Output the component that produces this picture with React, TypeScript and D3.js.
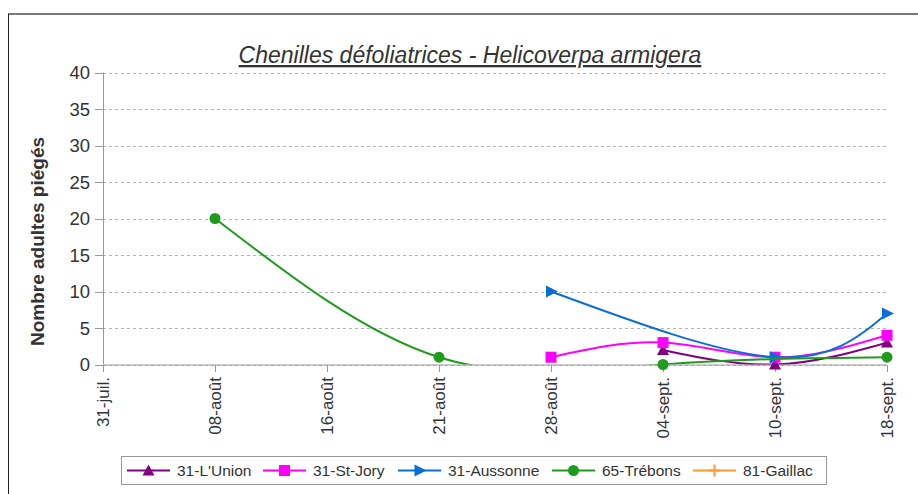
import React from "react";
import * as d3 from "d3";

// categories (x axis) and series values
const categories = ["31-juil.", "08-août", "16-août", "21-août", "28-août", "04-sept.", "10-sept.", "18-sept."];
const yTicks = [0, 5, 10, 15, 20, 25, 30, 35, 40];

const lUnion = [null, null, null, null, null, 2, 0, 3];
const stJory = [null, null, null, null, 1, 3, 1, 4];
const aussonne = [null, null, null, null, 10, null, 1, 7];
const trebons = [null, 20, null, 1, null, 0, null, 1];
const gaillac = [null, null, null, null, null, null, null, null];

const seriesNames = ["31-L'Union", "31-St-Jory", "31-Aussonne", "65-Trébons", "81-Gaillac"];
const seriesValues = [lUnion, stJory, aussonne, trebons, gaillac];
const seriesColors = ["#800080", "#ff00ff", "#0a6fd4", "#1e9c1e", "#ff9a2e"];
const seriesMarkers = ["triangle", "square", "arrow", "circle", "plus"];

const font = "'Liberation Sans', Arial, sans-serif";

const Marker = ({ kind, x, y, color }) => {
  if (kind === "triangle")
    return <path d={`M${x},${y - 6}L${x + 6},${y + 5}L${x - 6},${y + 5}Z`} fill={color} />;
  if (kind === "square")
    return <rect x={x - 5.5} y={y - 5.5} width={11} height={11} fill={color} />;
  if (kind === "arrow")
    return <path d={`M${x - 5},${y - 6}L${x + 7},${y}L${x - 5},${y + 6}Z`} fill={color} />;
  if (kind === "circle") return <circle cx={x} cy={y} r={5.5} fill={color} />;
  return (
    <path d={`M${x - 6},${y}H${x + 6}M${x},${y - 6}V${y + 6}`} stroke={color} strokeWidth={2} />
  );
};

const App = () => {
  const width = 918,
    height = 494;
  const x = d3.scalePoint().domain(categories).range([103, 887]);
  const y = d3.scaleLinear().domain([0, 40]).range([364.5, 72.5]);

  const line = d3
    .line()
    .x((d) => d[0])
    .y((d) => d[1])
    .curve(d3.curveNatural);

  const legendX = [127, 263, 398, 552, 693];

  return (
    <svg
      width={width}
      height={height}
      style={{ position: "absolute", left: 0, top: 0, background: "#fff" }}
      fontFamily={font}
    >
      <defs>
        <clipPath id="plot">
          <rect x={x(categories[0])} y={y(40)} width={887 - 103} height={y(0) - y(40)} />
        </clipPath>
      </defs>

      {/* frame */}
      <line x1={8} x2={width} y1={14} y2={14} stroke="#7a7a7a" strokeWidth={2} />
      <line x1={8.5} x2={8.5} y1={14} y2={height} stroke="#222" strokeWidth={1} />

      {/* title */}
      <text
        x={470}
        y={63}
        textAnchor="middle"
        fontSize={23}
        fontStyle="italic"
        textDecoration="underline"
        fill="#333"
      >
        Chenilles défoliatrices - Helicoverpa armigera
      </text>

      {/* grid */}
      {yTicks.map((t) => (
        <line
          key={"g" + t}
          x1={103}
          x2={887}
          y1={Math.round(y(t)) + 0.5}
          y2={Math.round(y(t)) + 0.5}
          stroke="#b3b3b3"
          strokeDasharray="3,3"
        />
      ))}

      {/* y axis */}
      <line x1={103.5} x2={103.5} y1={y(40)} y2={y(0)} stroke="#999" />
      {yTicks.map((t) => (
        <g key={"y" + t}>
          <line x1={95} x2={103} y1={Math.round(y(t)) + 0.5} y2={Math.round(y(t)) + 0.5} stroke="#999" />
          <text x={90} y={y(t) + 6.5} textAnchor="end" fontSize={18.5} fill="#333">
            {t}
          </text>
        </g>
      ))}
      <text
        transform={`translate(44,241.5) rotate(-90)`}
        textAnchor="middle"
        fontSize={19}
        fontWeight="bold"
        fill="#333"
      >
        Nombre adultes piégés
      </text>

      {/* x axis */}
      <line x1={103} x2={887} y1={365} y2={365} stroke="#999" />
      {categories.map((c) => (
        <g key={c}>
          <line x1={Math.round(x(c)) + 0.5} x2={Math.round(x(c)) + 0.5} y1={365} y2={372} stroke="#999" />
          <text
            transform={`translate(${x(c) + 6},377) rotate(-90)`}
            textAnchor="end"
            fontSize={17}
            fill="#333"
          >
            {c}
          </text>
        </g>
      ))}

      {/* series */}
      {seriesValues.map((vals, i) => {
        const pts = vals
          .map((v, j) => (v == null ? null : [x(categories[j]), y(v)]))
          .filter((p) => p !== null);
        return (
          <g key={seriesNames[i]}>
            {pts.length > 1 && (
              <path
                d={line(pts)}
                fill="none"
                stroke={seriesColors[i]}
                strokeWidth={2}
                clipPath="url(#plot)"
              />
            )}
            {pts.map((p, k) => (
              <Marker key={k} kind={seriesMarkers[i]} x={p[0]} y={p[1]} color={seriesColors[i]} />
            ))}
          </g>
        );
      })}

      {/* legend */}
      <rect x={121.5} y={456.5} width={705} height={28} fill="#fff" stroke="#999" />
      {seriesNames.map((name, i) => (
        <g key={"l" + name}>
          <line x1={legendX[i]} x2={legendX[i] + 43} y1={470.5} y2={470.5} stroke={seriesColors[i]} strokeWidth={2} />
          <Marker kind={seriesMarkers[i]} x={legendX[i] + 21.5} y={470.5} color={seriesColors[i]} />
          <text x={legendX[i] + 50} y={476} fontSize={15.5} fill="#333">
            {name}
          </text>
        </g>
      ))}
    </svg>
  );
};

export default App;
